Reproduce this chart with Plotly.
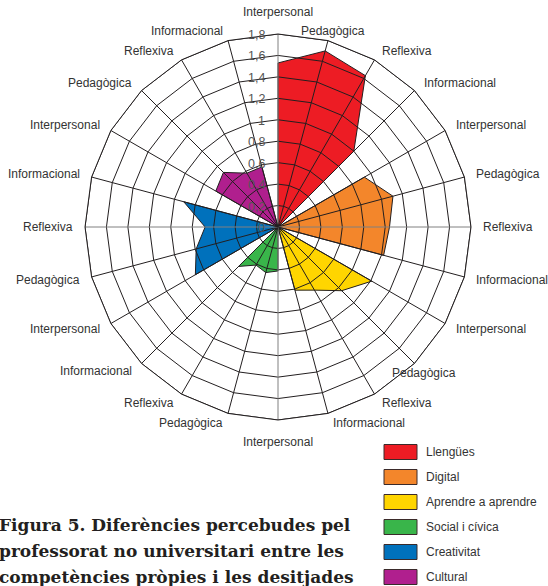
import math
import plotly.graph_objects as go

# ---------------- data ----------------
spoke_labels = ["Interpersonal", "Pedagògica", "Reflexiva", "Informacional"] * 6
series_names = ["Llengües", "Digital", "Aprendre a aprendre", "Social i cívica", "Creativitat", "Cultural"]
llengues = [1.53, 1.70, 1.63, 1.00]
digital = [0.93, 1.11, 1.04, 1.02]
aprendre = [1.01, 0.84, 0.68, 0.61]
social = [0.41, 0.44, 0.41, 0.52]
creativitat = [0.89, 0.79, 0.68, 0.91]
cultural = [0.67, 0.72, 0.58, 0.58]
series_values = [llengues, digital, aprendre, social, creativitat, cultural]
colors = ["#ED1C24", "#F3862B", "#FFD500", "#39B54A", "#0071BC", "#B01F8E"]
radial_ticks = [0, 0.2, 0.4, 0.6, 0.8, 1.0, 1.2, 1.4, 1.6, 1.8]
radial_tick_labels = ["0", "0,2", "0,4", "0,6", "0,8", "1", "1,2", "1,4", "1,6", "1,8"]
caption_lines = ["Figura 5. Diferències percebudes pel",
                 "professorat no universitari entre les",
                 "competències pròpies i les desitjades"]

W, H = 548, 586
SANS = "Liberation Sans, Arial, sans-serif"
cats = [str(i) for i in range(len(spoke_labels))]
n = len(cats)
rmax = radial_ticks[-1]

fig = go.Figure()

# filled polygons
for k, (name, vals, col) in enumerate(zip(series_names, series_values, colors)):
    r = [0.0] * n
    for j, v in enumerate(vals):
        r[4 * k + j] = v
    fig.add_trace(go.Scatterpolar(
        r=r + [r[0]], theta=cats + [cats[0]], mode="lines", fill="toself",
        fillcolor=col, line=dict(color="#231f20", width=1),
        name=name, showlegend=False, hoverinfo="skip"))

# polygon grid drawn above the fills
for t in radial_ticks[1:]:
    fig.add_trace(go.Scatterpolar(
        r=[t] * (n + 1), theta=cats + [cats[0]], mode="lines",
        line=dict(color="#231f20", width=1), showlegend=False, hoverinfo="skip"))
for i, c in enumerate(cats):
    fig.add_trace(go.Scatterpolar(
        r=[0, rmax], theta=[c, c], mode="lines",
        line=dict(color="#808080" if i % 6 == 0 else "#231f20", width=1),
        showlegend=False, hoverinfo="skip"))

cx, cy, R = 278, 227, 193
fig.update_layout(
    width=W, height=H,
    margin=dict(l=0, r=0, t=0, b=0),
    paper_bgcolor="white", plot_bgcolor="white",
    separators=",.",
    showlegend=False,
    polar=dict(
        domain=dict(x=[(cx - R) / W, (cx + R) / W], y=[1 - (cy + R) / H, 1 - (cy - R) / H]),
        gridshape="linear",
        bgcolor="white",
        radialaxis=dict(range=[0, rmax], tickmode="array", tickvals=radial_ticks,
                        showticklabels=False, showgrid=False, showline=False,
                        angle=90, ticks=""),
        angularaxis=dict(type="category", categoryarray=cats, tickmode="array",
                         tickvals=cats, showticklabels=False,
                         direction="clockwise", rotation=90, showgrid=False,
                         showline=True, linecolor="#231f20", linewidth=1, ticks=""),
    ),
)

def px(x):
    return x / W

def py(y):
    return 1 - y / H

# spoke labels
for i, lab in enumerate(spoke_labels):
    ang = math.radians(360 * i / n)
    s, c = math.sin(ang), math.cos(ang)
    vx, vy = cx + R * s, cy - R * c
    if abs(s) < 0.2:
        pad = 13
        xa = "center"
        ya = "bottom" if c > 0 else "top"
    else:
        pad = 10
        xa = "left" if s > 0 else "right"
        ya = "middle"
    ax_, ay_ = vx + pad * s, vy - pad * c
    if i in (1, 9):  # these two sit centred in the original
        xa = "center"
        ax_ += 2
        if i == 1:
            ya = "bottom"
            ay_ += 9
        else:
            ya = "top"
            ay_ -= 7
    fig.add_annotation(xref="paper", yref="paper", x=px(ax_), y=py(ay_),
                       xanchor=xa, yanchor=ya, showarrow=False, text=lab,
                       font=dict(family=SANS, size=12, color="#333333"))

# radial tick labels
for t, lab in zip(radial_ticks, radial_tick_labels):
    fig.add_annotation(xref="paper", yref="paper", x=px(cx - 11), y=py(cy - t * R / rmax + 1),
                       xanchor="right", yanchor="middle", showarrow=False, text=lab,
                       font=dict(family=SANS, size=12.5, color="#555555"))

# custom legend
for k, (name, col) in enumerate(zip(series_names, colors)):
    yc = 452 + 25 * k
    fig.add_shape(type="rect", xref="paper", yref="paper",
                  x0=px(384), x1=px(417), y0=py(yc + 7.5), y1=py(yc - 7.5),
                  fillcolor=col, line=dict(color="#3a2a2a", width=1))
    fig.add_annotation(xref="paper", yref="paper", x=px(424), y=py(yc),
                       xanchor="left", yanchor="middle", showarrow=False, text=name,
                       font=dict(family=SANS, size=12, color="#333333"))

# caption
for i, line in enumerate(caption_lines):
    fig.add_annotation(xref="paper", yref="paper", x=px(-3), y=py(525 + 26 * i),
                       xanchor="left", yanchor="middle", showarrow=False, text="<b>" + line + "</b>",
                       font=dict(family="DejaVu Serif, Liberation Serif, serif", size=17, color="#231f20"))

fig.write_html("out.html", config={"displayModeBar": False},
               post_script="document.body.style.margin='0px';document.body.style.padding='0px';")
